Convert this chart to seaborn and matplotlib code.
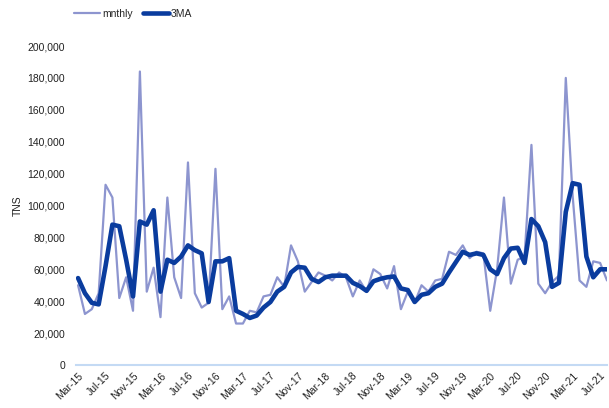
import numpy as np
import pandas as pd
import seaborn as sns
import matplotlib.pyplot as plt
import matplotlib.transforms as mtransforms
from matplotlib.ticker import FuncFormatter

# monthly tonnage, Mar-15 .. Aug-21 (thousands of tonnes)
mnthly = [50, 32, 35, 45, 113, 105, 42, 55, 34, 184, 46, 61, 30,
          105, 55, 42, 127, 45, 36, 39, 123, 35, 43, 26, 26, 34, 33,
          43, 44, 55, 49, 75, 65, 46, 52, 58, 56, 53, 58, 55, 43, 53,
          46, 60, 57, 48, 62, 35, 46, 39, 50, 46, 53, 54, 71, 69, 75,
          67, 71, 70, 34, 60, 105, 51, 66, 68, 138, 51, 45, 52, 56,
          180, 106, 53, 49, 65, 64, 53]

# 3 month moving average (thousands)
ma3 = [54.5, 45, 39, 38, 62, 88, 87, 66, 43, 90, 88, 97, 46,
       66, 64, 68, 75, 72, 70, 39.5, 65, 65, 67, 34, 32, 29.5, 31,
       36, 39.5, 46, 49, 58, 61.5, 61, 54, 52, 55, 56, 56, 56, 51.5, 49.5,
       46.5, 52.5, 54, 55, 55.5, 48, 47, 39.5, 44, 45, 49, 51, 58, 64.5, 71,
       69, 70, 69, 60, 57, 67, 73, 73.5, 64, 91.5, 87, 77, 49, 51.5,
       96, 114, 113, 68, 55, 60, 60]

tick_labels = ['Mar-15', 'Jul-15', 'Nov-15', 'Mar-16', 'Jul-16', 'Nov-16',
               'Mar-17', 'Jul-17', 'Nov-17', 'Mar-18', 'Jul-18', 'Nov-18',
               'Mar-19', 'Jul-19', 'Nov-19', 'Mar-20', 'Jul-20', 'Nov-20',
               'Mar-21', 'Jul-21']

df = pd.DataFrame({'Month': np.arange(len(mnthly)),
                   'mnthly': np.array(mnthly) * 1000,
                   '3MA': np.array(ma3) * 1000})

sns.set_style("white")
plt.rcParams['font.family'] = ['Liberation Sans', 'DejaVu Sans']

fig = plt.figure(figsize=(6.09, 4.08), dpi=100)
ax = fig.add_axes([76 / 609, 43 / 408, 531 / 609, 319 / 408])

sns.lineplot(data=df, x='Month', y='mnthly', ax=ax, color='#8d95cf',
             linewidth=1.6, label='mnthly')
sns.lineplot(data=df, x='Month', y='3MA', ax=ax, color='#0a3c9e',
             linewidth=3.3, label='3MA')

ax.set_xlim(-0.3, 77)
ax.set_ylim(0, 200000)
ax.set_yticks(np.arange(0, 200001, 20000))
ax.yaxis.set_major_formatter(FuncFormatter(lambda v, p: f'{v:,.0f}'))
ax.set_xticks(np.arange(0, 77, 4))
ax.set_xticklabels(tick_labels, rotation=45, ha='right', va='top',
                   rotation_mode='anchor', fontsize=7.5, color='#222222')
shift = mtransforms.ScaledTranslation(4 / 100, -3 / 100, fig.dpi_scale_trans)
for lab in ax.get_xticklabels():
    lab.set_transform(lab.get_transform() + shift)
ax.tick_params(axis='y', labelsize=7.5, labelcolor='#222222', length=0, pad=8)
ax.tick_params(axis='x', length=0, pad=4)
ax.set_xlabel('')
ax.set_ylabel('TNS', fontsize=7.5, color='#222222', labelpad=3)

for s in ['top', 'right', 'left']:
    ax.spines[s].set_visible(False)
ax.spines['bottom'].set_color('#c4daf4')
ax.spines['bottom'].set_linewidth(1.5)

ax.get_legend().remove()
h, l = ax.get_legend_handles_labels()
fig.legend(h, l, loc='center', bbox_to_anchor=(133 / 609, 1 - 14 / 408),
           ncol=2, frameon=False, fontsize=7.5, handlelength=2.5,
           handletextpad=0.2, columnspacing=1.0)

plt.savefig('out.png', dpi=100)
